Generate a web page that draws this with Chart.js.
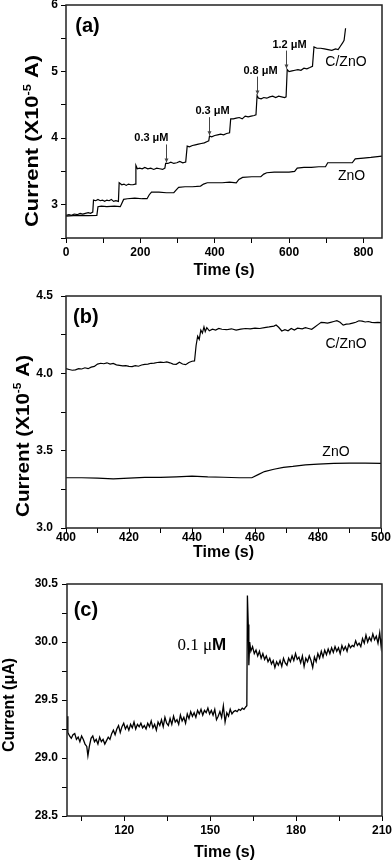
<!DOCTYPE html>
<html>
<head>
<meta charset="utf-8">
<title>Amperometric response</title>
<script src="https://cdn.jsdelivr.net/npm/chart.js@4.4.1/dist/chart.umd.min.js"></script>
<style>
  body { margin: 0; background: #fff; }
  .panel { position: absolute; left: 0; width: 392px; }
  canvas { display: block; }
</style>
</head>
<body>
<div class="panel" style="top:0px;height:285px"><canvas id="chartA" width="392" height="285"></canvas></div>
<div class="panel" style="top:285px;height:285px"><canvas id="chartB" width="392" height="285"></canvas></div>
<div class="panel" style="top:570px;height:292px"><canvas id="chartC" width="392" height="292"></canvas></div>
<script>
const SANS = '"Liberation Sans", Arial, sans-serif';
const SERIF = '"Liberation Serif", "Times New Roman", serif';

// ---- Panel (a): full run, [time (s), current (x10^-5 A)]
const czA = [
  [0,2.84],[8,2.85],[15,2.84],[22,2.86],[30,2.85],[38,2.87],[45,2.86],[52,2.87],[60,2.88],[66,2.87],[72,2.89],
  [74,3.07],[80,3.06],[86,3.08],[92,3.06],[98,3.07],[104,3.05],[110,3.07],[116,3.06],[122,3.08],[128,3.05],[134,3.06],[141,3.05],
  [143,3.33],[150,3.30],[156,3.31],[162,3.29],[168,3.31],[174,3.30],[180,3.30],[186,3.31],
  [188,3.59],[192,3.54],[198,3.55],[205,3.54],[212,3.56],[220,3.54],[228,3.55],[236,3.53],[244,3.55],[252,3.54],[260,3.53],[266,3.55],
  [268,3.62],[274,3.62],[282,3.64],[290,3.62],[298,3.63],[306,3.65],[314,3.63],[322,3.64],
  [326,3.88],[332,3.87],[340,3.89],[348,3.90],[356,3.91],[364,3.92],[372,3.93],[380,3.95],[384,3.96],
  [386,4.03],[392,4.02],[400,4.04],[408,4.05],[416,4.06],[424,4.05],[432,4.07],[440,4.08],
  [443,4.29],[450,4.29],[458,4.30],[466,4.31],[474,4.29],[482,4.33],[490,4.32],[498,4.33],[506,4.34],[511,4.35],
  [514,4.64],[518,4.60],[525,4.59],[532,4.61],[540,4.60],[548,4.62],[556,4.63],[564,4.61],[572,4.63],[580,4.62],[588,4.61],[592,4.62],
  [595,5.03],[600,5.00],[608,5.01],[616,5.02],[624,5.03],[632,5.02],[640,5.05],[648,5.04],[656,5.06],[663,5.08],
  [667,5.37],[675,5.35],[685,5.35],[695,5.34],[705,5.33],[715,5.32],[725,5.34],[732,5.33],[738,5.38],[744,5.43],[748,5.47],[752,5.65]
];
const znoA = [
  [0,2.83],[20,2.835],[40,2.84],[60,2.835],[83,2.84],[86,2.97],[95,2.98],[110,2.97],[130,2.98],[146,2.97],
  [150,3.02],[155,3.08],[165,3.09],[185,3.10],[205,3.09],[218,3.09],[224,3.15],[230,3.19],[250,3.19],[270,3.18],
  [290,3.18],[296,3.22],[303,3.26],[320,3.27],[340,3.27],[362,3.28],[370,3.31],[380,3.33],[400,3.33],[420,3.33],
  [440,3.34],[458,3.33],[465,3.38],[475,3.41],[500,3.42],[524,3.42],[532,3.46],[540,3.48],[560,3.49],[580,3.49],
  [600,3.49],[615,3.50],[622,3.55],[640,3.56],[660,3.56],[680,3.57],[698,3.57],[704,3.63],[720,3.63],[740,3.63],
  [760,3.63],[770,3.63],[778,3.69],[800,3.70],[820,3.71],[850,3.73]
];
const doseTimesA = [268, 385, 514, 592];
const doseLabelsA = ['0.3 μM', '0.3 μM', '0.8 μM', '1.2 μM'];
const xTicksA = [0, 100, 200, 300, 400, 500, 600, 700, 800];
const xLabelsA = [0, 200, 400, 600, 800];
const yTicksA = [2.5, 3, 3.5, 4, 4.5, 5, 5.5, 6];
const yLabelsA = [3, 4, 5, 6];

// ---- Panel (b): zoom 400-500 s
const czB = [
  [400,4.03],[401,4.025],[402,4.02],[403,4.022],[404,4.03],[405,4.028],[406,4.036],[407,4.03],[408,4.04],[409,4.045],
  [410,4.06],[411,4.065],[412,4.062],[413,4.068],[414,4.06],[415,4.064],[416,4.055],[417,4.052],[418,4.048],[419,4.05],
  [420,4.045],[421,4.043],[422,4.05],[423,4.046],[424,4.054],[425,4.058],[426,4.06],[427,4.065],[428,4.066],[429,4.07],
  [430,4.072],[431,4.07],[432,4.074],[433,4.068],[434,4.06],[435,4.058],[436,4.072],[437,4.06],[438,4.056],[439,4.07],
  [440,4.078],[440.8,4.08],[441.3,4.18],[441.8,4.24],[442.3,4.22],[442.8,4.28],[443.3,4.26],[443.8,4.30],[444.2,4.27],[444.7,4.295],
  [445.5,4.275],[446.5,4.285],[447.5,4.28],[448.5,4.29],[449.5,4.285],[451,4.282],[452.5,4.288],[454,4.28],[455.5,4.286],[457,4.29],
  [458.5,4.288],[460,4.292],[461.5,4.29],[463,4.296],[464.5,4.30],[466,4.305],[466.7,4.312],[467.5,4.298],[468.5,4.274],[469.5,4.282],
  [470.5,4.275],[471.5,4.29],[472.5,4.28],[473.5,4.292],[475,4.288],[476,4.295],[477,4.29],[478,4.285],[479,4.30],[480,4.315],
  [481,4.33],[482,4.328],[483,4.325],[484,4.33],[485,4.335],[486,4.34],[487,4.33],[488,4.312],[489,4.318],[490,4.32],
  [491,4.325],[492,4.33],[493,4.34],[494,4.338],[495,4.332],[496,4.335],[497,4.33],[498,4.328],[499,4.33],[500,4.328]
];
const znoB = [
  [400,3.325],[405,3.325],[410,3.322],[415,3.318],[420,3.322],[425,3.327],[430,3.327],[435,3.33],[440,3.335],[445,3.33],
  [450,3.328],[455,3.325],[459,3.325],[461,3.345],[463,3.365],[466,3.38],[469,3.392],[472,3.398],[476,3.408],[480,3.413],
  [485,3.418],[490,3.42],[495,3.42],[500,3.418]
];
const xTicksB = [400, 410, 420, 430, 440, 450, 460, 470, 480, 490, 500];
const xLabelsB = [400, 420, 440, 460, 480, 500];
const yTicksB = [3, 3.25, 3.5, 3.75, 4, 4.25, 4.5];
const yLabelsB = [3, 3.5, 4, 4.5];

// ---- Panel (c): single 0.1 uM addition, [time (s), current (uA)]
const traceC = [
  [100.0,29.36],[100.3,29.22],[100.9,29.19],[101.5,29.17],[102.1,29.20],[102.7,29.21],[103.3,29.16],[103.9,29.18],[104.5,29.14],[105.1,29.19],
  [105.7,29.16],[106.3,29.12],[106.9,29.10],[107.3,29.02],[107.8,29.10],[108.4,29.17],[109.0,29.19],[109.6,29.14],[110.2,29.16],[110.8,29.12],
  [111.4,29.18],[112.0,29.14],[112.6,29.16],[113.2,29.12],[113.8,29.15],[114.4,29.18],[115.0,29.16],[115.6,29.21],[116.2,29.24],[116.8,29.20],
  [117.4,29.25],[118.0,29.28],[118.6,29.22],[119.2,29.27],[119.8,29.30],[120.4,29.25],[121.0,29.28],[121.6,29.24],[122.2,29.29],[122.8,29.26],
  [123.4,29.31],[124.0,29.25],[124.6,29.29],[125.2,29.27],[125.8,29.30],[126.4,29.26],[127.0,29.28],[127.6,29.25],[128.2,29.30],[128.8,29.27],
  [129.4,29.32],[130.0,29.26],[130.6,29.29],[131.2,29.24],[131.8,29.31],[132.4,29.28],[133.0,29.33],[133.6,29.27],[134.2,29.35],[134.8,29.30],
  [135.4,29.28],[136.0,29.34],[136.6,29.29],[137.2,29.36],[137.8,29.31],[138.4,29.33],[139.0,29.29],[139.6,29.37],[140.2,29.32],[140.8,29.35],
  [141.4,29.30],[142.0,29.38],[142.6,29.34],[143.2,29.40],[143.8,29.36],[144.4,29.39],[145.0,29.35],[145.6,29.41],[146.2,29.38],[146.8,29.42],
  [147.4,29.37],[148.0,29.41],[148.6,29.39],[149.2,29.43],[149.8,29.38],[150.4,29.41],[151.0,29.37],[151.6,29.42],[152.2,29.33],[152.8,29.36],
  [153.4,29.40],[154.0,29.35],[154.6,29.45],[155.2,29.31],[155.8,29.39],[156.4,29.36],[157.0,29.42],[157.6,29.38],[158.2,29.40],[158.8,29.41],
  [159.4,29.40],[160.0,29.42],[160.6,29.41],[161.2,29.43],[161.8,29.42],[162.4,29.44],[162.8,29.45],[163.0,30.40],[163.3,30.15],[163.5,29.80],
  [163.8,30.00],[164.2,29.92],[164.8,29.96],[165.4,29.90],[166.0,29.93],[166.6,29.88],[167.2,29.92],[167.8,29.86],[168.4,29.90],[169.0,29.85],
  [169.6,29.88],[170.2,29.83],[170.8,29.86],[171.4,29.81],[172.0,29.84],[172.6,29.78],[173.2,29.83],[173.8,29.80],[174.4,29.84],[175.0,29.79],
  [175.6,29.86],[176.2,29.82],[176.8,29.80],[177.4,29.86],[178.0,29.83],[178.6,29.88],[179.2,29.84],[179.8,29.90],[180.4,29.85],[181.0,29.87],
  [181.6,29.82],[182.2,29.88],[182.8,29.79],[183.4,29.86],[184.0,29.83],[184.6,29.88],[185.2,29.84],[185.8,29.78],[186.4,29.87],[187.0,29.83],
  [187.6,29.90],[188.2,29.86],[188.8,29.92],[189.4,29.87],[190.0,29.93],[190.6,29.89],[191.2,29.94],[191.8,29.90],[192.4,29.95],[193.0,29.91],
  [193.6,29.96],[194.2,29.92],[194.8,29.95],[195.4,29.90],[196.0,29.97],[196.6,29.93],[197.2,29.96],[197.8,29.92],[198.4,29.98],[199.0,29.95],
  [199.6,29.97],[200.2,29.96],[200.8,30.01],[201.4,29.97],[202.0,29.99],[202.6,29.96],[203.2,30.03],[203.8,29.99],[204.4,30.06],[205.0,30.00],
  [205.6,30.04],[206.2,30.01],[206.8,30.07],[207.4,30.02],[208.0,30.05],[208.6,29.99],[209.2,30.08],[209.7,29.96],[210.0,30.03]
];
const xTicksC = [105, 120, 135, 150, 165, 180, 195, 210];
const xLabelsC = [120, 150, 180, 210];
const yTicksC = [28.5, 28.75, 29, 29.25, 29.5, 29.75, 30, 30.25, 30.5];
const yLabelsC = [28.5, 29, 29.5, 30, 30.5];

// convert [t, i] pairs into chart points
function toPoints(pairs) {
  return pairs.map(p => ({ x: p[0], y: p[1] }));
}

// draw a rotated (vertical) axis title, optional superscript parts
function drawYTitle(ctx, t) {
  const F = t.size;
  const fontOf = p => 'bold ' + (p.sup ? Math.round(F * 0.6) : F) + 'px ' + SANS;
  ctx.save();
  ctx.translate(t.x, t.y);
  ctx.rotate(-Math.PI / 2);
  let total = 0;
  const widths = t.parts.map(p => {
    ctx.font = fontOf(p);
    const w = ctx.measureText(p.text).width;
    total += w;
    return w;
  });
  if (t.length) ctx.scale(t.length / total, 1);
  let pos = -total / 2;
  ctx.textAlign = 'left';
  ctx.textBaseline = 'alphabetic';
  t.parts.forEach((p, i) => {
    ctx.font = fontOf(p);
    ctx.fillText(p.text, pos, p.sup ? -0.14 * F : 0.26 * F);
    pos += widths[i];
  });
  ctx.restore();
}

// label made of one or more text parts, anchored in data coordinates
function drawLabel(ctx, l, xs, ys) {
  const widths = l.parts.map(p => { ctx.font = p.font; return ctx.measureText(p.text).width; });
  const total = widths.reduce((a, b) => a + b, 0);
  let pos = xs.getPixelForValue(l.x) - (l.align === 'right' ? total : total / 2);
  const py = ys.getPixelForValue(l.y);
  ctx.textAlign = 'left';
  ctx.textBaseline = 'middle';
  l.parts.forEach((p, i) => {
    ctx.font = p.font;
    ctx.fillText(p.text, pos, py);
    pos += widths[i];
  });
}

// frame, labels, dose arrows and axis titles
const decorPlugin = {
  id: 'decor',
  afterDraw(chart, args, opts) {
    const { ctx, chartArea: area, scales: { x, y } } = chart;
    ctx.save();
    ctx.strokeStyle = '#222';
    ctx.lineWidth = 1.5;
    ctx.strokeRect(area.left, area.top, area.right - area.left, area.bottom - area.top);
    ctx.fillStyle = '#000';

    (opts.labels || []).forEach(l => drawLabel(ctx, l, x, y));

    // arrows marking each addition, pointing at the top of the step
    if (opts.arrows) {
      const a = opts.arrows;
      a.times.forEach((t, i) => {
        const near = a.series.filter(p => Math.abs(p[0] - t) <= 3).map(p => p[1]);
        const px = Math.round(x.getPixelForValue(t)) + 0.5;
        const tip = y.getPixelForValue(Math.max(...near)) - 1;
        const top = tip - a.length;
        ctx.strokeStyle = '#444';
        ctx.fillStyle = '#444';
        ctx.lineWidth = 1;
        ctx.beginPath();
        ctx.moveTo(px, top);
        ctx.lineTo(px, tip);
        ctx.stroke();
        ctx.beginPath();
        ctx.moveTo(px - 2, tip - 4);
        ctx.lineTo(px, tip);
        ctx.lineTo(px + 2, tip - 4);
        ctx.closePath();
        ctx.fill();
        ctx.fillStyle = '#000';
        const align = a.align[i];
        ctx.font = a.font;
        ctx.textBaseline = 'middle';
        ctx.textAlign = align;
        ctx.fillText(a.labels[i], align === 'right' ? px + 2 : px + 3, top - 6);
      });
    }

    // axis titles
    ctx.fillStyle = '#000';
    ctx.font = 'bold 16px ' + SANS;
    ctx.textAlign = 'center';
    ctx.textBaseline = 'alphabetic';
    ctx.fillText(opts.xTitle.text, (area.left + area.right) / 2, opts.xTitle.y + 0.26 * 16);
    drawYTitle(ctx, opts.yTitle);
    ctx.restore();
  }
};

// one linear axis with a fixed list of ticks, labels on the major ones only
function axis(min, max, ticks, labels, digits, size, labelPad, isY) {
  return {
    type: 'linear',
    min: min,
    max: max,
    afterBuildTicks: s => { s.ticks = ticks.map(v => ({ value: v })); },
    afterFit: s => {
      if (isY) { s.width = size; s.paddingTop = 0; s.paddingBottom = 0; }
      else { s.height = size; s.paddingLeft = 0; s.paddingRight = 0; }
    },
    grid: { drawOnChartArea: false, tickLength: 5, tickColor: '#000', tickWidth: 1 },
    border: { display: false },
    ticks: {
      autoSkip: false,
      maxRotation: 0,
      padding: labelPad,
      color: '#000',
      font: { family: SANS, size: 12, weight: 'bold' },
      callback: v => labels.includes(v) ? v.toFixed(digits) : ''
    }
  };
}

function makePanel(id, cfg) {
  return new Chart(document.getElementById(id), {
    type: 'line',
    data: {
      datasets: cfg.series.map(s => ({
        data: toPoints(s),
        borderColor: '#000',
        borderWidth: cfg.lineWidth,
        pointRadius: 0,
        tension: 0,
        fill: false
      }))
    },
    options: {
      responsive: false,
      animation: false,
      events: [],
      devicePixelRatio: 1,
      layout: { padding: cfg.padding },
      plugins: { legend: { display: false }, tooltip: { enabled: false }, decor: cfg.decor },
      scales: { x: cfg.x, y: cfg.y }
    },
    plugins: [decorPlugin]
  });
}

const labelFont = '14px ' + SANS;
const panelFont = 'bold 20px ' + SANS;

makePanel('chartA', {
  series: [czA, znoA],
  lineWidth: 1.2,
  padding: { left: 0, right: 10, top: 5, bottom: 0 },
  x: axis(0, 850, xTicksA, xLabelsA, 0, 47, 2, false),
  y: axis(2.5, 6, yTicksA, yLabelsA, 0, 66, 3, true),
  decor: {
    labels: [
      { parts: [{ text: '(a)', font: panelFont }], x: 58, y: 5.68 },
      { parts: [{ text: 'C/ZnO', font: labelFont }], x: 753, y: 5.14 },
      { parts: [{ text: 'ZnO', font: labelFont }], x: 768, y: 3.435 }
    ],
    arrows: {
      series: czA, times: doseTimesA, labels: doseLabelsA,
      align: ['right', 'center', 'center', 'center'],
      length: 18, font: 'bold 11px ' + SANS
    },
    xTitle: { text: 'Time (s)', y: 271 },
    yTitle: { parts: [{ text: 'Current (X10' }, { text: '-5', sup: true }, { text: ' A)' }], x: 33.5, y: 141, size: 19, length: 172 }
  }
});

makePanel('chartB', {
  series: [czB, znoB],
  lineWidth: 1.2,
  padding: { left: 0, right: 11, top: 11, bottom: 0 },
  x: axis(400, 500, xTicksB, xLabelsB, 0, 42, -3, false),
  y: axis(3, 4.5, yTicksB, yLabelsB, 1, 66, 8, true),
  decor: {
    labels: [
      { parts: [{ text: '(b)', font: panelFont }], x: 406.3, y: 4.358 },
      { parts: [{ text: 'C/ZnO', font: labelFont }], x: 488.9, y: 4.19 },
      { parts: [{ text: 'ZnO', font: labelFont }], x: 485.7, y: 3.49 }
    ],
    xTitle: { text: 'Time (s)', y: 268 },
    yTitle: { parts: [{ text: 'Current (X10' }, { text: '-5', sup: true }, { text: ' A)' }], x: 24, y: 151, size: 19, length: 162 }
  }
});

makePanel('chartC', {
  series: [traceC],
  lineWidth: 1.3,
  padding: { left: 0, right: 10, top: 14, bottom: 0 },
  x: axis(100, 210, xTicksC, xLabelsC, 0, 46, 2, false),
  y: axis(28.5, 30.5, yTicksC, yLabelsC, 1, 67, 4, true),
  decor: {
    labels: [
      { parts: [{ text: '(c)', font: panelFont }], x: 106.6, y: 30.27 },
      { parts: [{ text: '0.1 μ', font: '17px ' + SERIF }, { text: 'M', font: 'bold 17px ' + SANS }], x: 147.1, y: 29.97 }
    ],
    xTitle: { text: 'Time (s)', y: 283 },
    yTitle: { parts: [{ text: 'Current (μA)' }], x: 10, y: 135, size: 16 }
  }
});
</script>
</body>
</html>
